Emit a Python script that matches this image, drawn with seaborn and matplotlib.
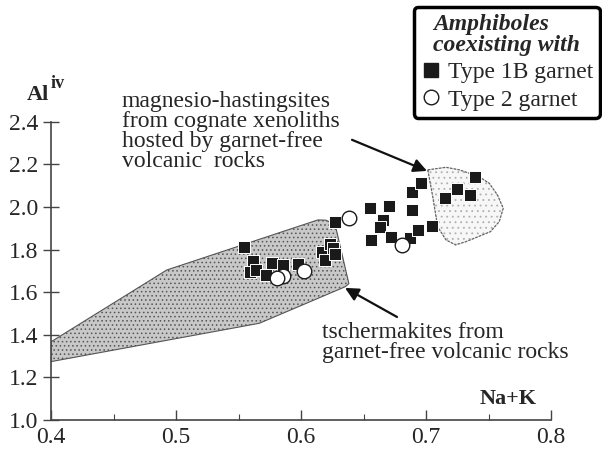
import matplotlib
matplotlib.use("Agg")
import matplotlib.pyplot as plt
import seaborn as sns
import pandas as pd
from matplotlib.patches import Polygon
from matplotlib.lines import Line2D

# ---- data ----
type1b_x = [0.5543, 0.5615, 0.5595, 0.5636, 0.5770, 0.5718, 0.5852, 0.5975, 0.6171, 0.6191,
            0.6232, 0.6253, 0.6274, 0.6268, 0.6551, 0.6706, 0.6654, 0.6634, 0.6562, 0.6716,
            0.6870, 0.6891, 0.6891, 0.6963, 0.6932, 0.7045, 0.7148, 0.7251, 0.7354, 0.7395]
type1b_y = [1.814, 1.745, 1.695, 1.706, 1.739, 1.681, 1.726, 1.733, 1.790, 1.752,
            1.825, 1.806, 1.778, 1.931, 1.994, 2.005, 1.940, 1.905, 1.845, 1.861,
            1.855, 1.986, 2.072, 2.111, 1.892, 1.912, 2.041, 2.083, 2.056, 2.139]
type2_x = [0.6387, 0.5857, 0.5806, 0.6027, 0.6807]
type2_y = [1.947, 1.675, 1.667, 1.698, 1.822]

tscherm_x = [0.400, 0.4926, 0.6135, 0.6197, 0.6249, 0.6280, 0.6383, 0.6352, 0.5667, 0.400]
tscherm_y = [1.367, 1.704, 1.939, 1.938, 1.925, 1.900, 1.640, 1.625, 1.454, 1.274]

hast_x = [0.7014, 0.7160, 0.7267, 0.7424, 0.7506, 0.7572, 0.7618, 0.7586, 0.7516, 0.7320,
          0.7236, 0.7160, 0.7093, 0.7054]
hast_y = [2.174, 2.186, 2.174, 2.142, 2.111, 2.056, 1.994, 1.931, 1.884, 1.837,
          1.822, 1.845, 1.907, 2.048]

xticks = [0.4, 0.5, 0.6, 0.7, 0.8]
yticks = [1.0, 1.2, 1.4, 1.6, 1.8, 2.0, 2.2, 2.4]

sns.set_style("ticks")
plt.rcParams['font.family'] = ['Liberation Serif', 'DejaVu Serif']
plt.rcParams['hatch.linewidth'] = 0.6

fig = plt.figure(figsize=(6.02, 4.5), dpi=100)
ax = fig.add_axes([51/602, 30/450, (551-51)/602, (420-121.7)/450])

# regions
ax.add_patch(Polygon(list(zip(tscherm_x, tscherm_y)), closed=True,
                     facecolor='#c8c8c8', edgecolor='#555555', lw=0.8,
                     hatch='....', zorder=1))
ax.add_patch(Polygon(list(zip(hast_x, hast_y)), closed=True,
                     facecolor='#f7f7f7', edgecolor='#b0b0b0', lw=0.3,
                     hatch='...', zorder=1))
ax.add_patch(Polygon(list(zip(hast_x, hast_y)), closed=True,
                     facecolor='none', edgecolor='#666666', lw=0.9,
                     linestyle=(0, (2, 1)), zorder=1.5))

df1 = pd.DataFrame({'x': type1b_x, 'y': type1b_y})
df2 = pd.DataFrame({'x': type2_x, 'y': type2_y})
sns.scatterplot(data=df1, x='x', y='y', marker='s', s=80, color='#1a1a1a',
                edgecolor='white', linewidth=0.7, ax=ax, zorder=3)
sns.scatterplot(data=df2, x='x', y='y', marker='o', s=110, color='white',
                edgecolor='#1a1a1a', linewidth=1.0, ax=ax, zorder=4)

ax.set_xlim(0.4, 0.8)
ax.set_ylim(1.0, 2.4)
ax.set_xticks(xticks)
ax.set_xticklabels([f"{v:.1f}" for v in xticks])
ax.set_xticks([0.45, 0.55, 0.65, 0.75], minor=True)
ax.set_yticks(yticks)
ax.set_yticklabels([f"{v:.1f}" for v in yticks])
ax.set_xlabel('')
ax.set_ylabel('')
for s in ['top', 'right']:
    ax.spines[s].set_visible(False)
for s in ['left', 'bottom']:
    ax.spines[s].set_color('#444444')
    ax.spines[s].set_linewidth(1.2)
ax.tick_params(axis='y', which='major', direction='inout', length=12, width=1.0,
               color='#444444', labelsize=17, pad=3)
ax.tick_params(axis='x', which='major', direction='in', length=7, width=1.0,
               color='#444444', labelsize=17, pad=5)
ax.tick_params(axis='x', which='minor', direction='in', length=4, width=0.8,
               color='#444444')

# axis labels
fig.text(27/602, 1 - 95/450, 'Al', fontsize=16, fontweight='bold', va='center', ha='left')
fig.text(51/602, 1 - 83/450, 'iv', fontsize=13, fontweight='bold', va='center', ha='left')
fig.text(537/602, 1 - 399/450, 'Na+K', fontsize=16, fontweight='bold', va='center', ha='right')

# annotations
fig.text(122/602, 1 - 91/450,
         "magnesio-hastingsites\nfrom cognate xenoliths\nhosted by garnet-free\nvolcanic  rocks",
         fontsize=17, va='top', ha='left', linespacing=0.93)
ax.annotate('', xy=(0.7008, 2.169), xytext=(0.6408, 2.315),
            arrowprops=dict(arrowstyle='-|>', color='#111111', lw=1.6,
                            mutation_scale=20, shrinkA=0, shrinkB=0),
            annotation_clip=False)
fig.text(322/602, 1 - 322/450, "tschermakites from\ngarnet-free volcanic rocks",
         fontsize=17, va='top', ha='left', linespacing=0.93)
ax.annotate('', xy=(0.6352, 1.620), xytext=(0.6768, 1.4836),
            arrowprops=dict(arrowstyle='-|>', color='#111111', lw=1.6,
                            mutation_scale=20, shrinkA=0, shrinkB=0),
            annotation_clip=False)

# legend
handles = [Line2D([], [], marker='s', linestyle='', markersize=9.5,
                  markerfacecolor='#1a1a1a', markeredgecolor='#1a1a1a'),
           Line2D([], [], marker='o', linestyle='', markersize=10.5,
                  markerfacecolor='white', markeredgecolor='#1a1a1a')]
leg = fig.legend(handles, ['Type 1B garnet', 'Type 2 garnet'],
                 title='Amphiboles\ncoexisting with',
                 title_fontproperties={'weight': 'bold', 'style': 'italic', 'size': 17},
                 fontsize=17, loc='upper right', bbox_to_anchor=(0.997, 0.985),
                 frameon=True, fancybox=True, handletextpad=0.25, handlelength=0.9,
                 borderpad=0.3, labelspacing=0.25, borderaxespad=0)
leg.get_title().set_linespacing(1.0)
leg.get_frame().set_edgecolor('black')
leg.get_frame().set_linewidth(2.5)
leg.get_frame().set_alpha(1)

fig.savefig('out.png', dpi=100)
